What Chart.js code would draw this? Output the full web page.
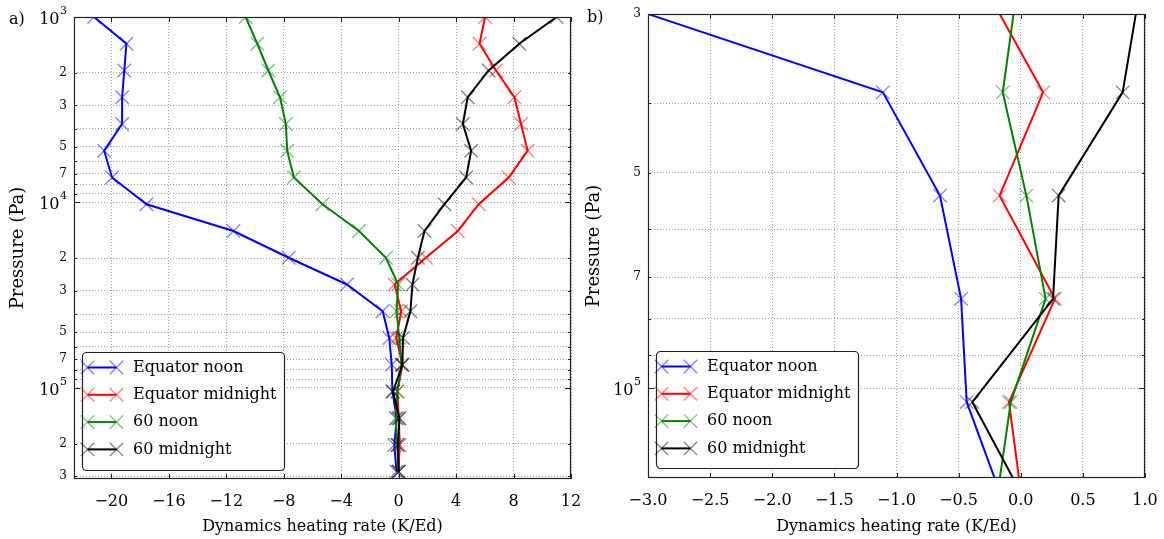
<!DOCTYPE html>
<html><head><meta charset="utf-8">
<script src="https://cdn.jsdelivr.net/npm/chart.js@4.4.0/dist/chart.umd.min.js"></script>
<style>
html,body{margin:0;padding:0;background:#fff;overflow:hidden;}
#wrap{position:relative;width:1164px;height:539px;overflow:hidden;background:#fff;}
.c{position:absolute;top:0;width:582px;height:539px;}
</style></head><body>
<div id="wrap">
<div class="c" style="left:0"><canvas id="ca" width="582" height="539" style="width:582px;height:539px"></canvas></div>
<div class="c" style="left:582px"><canvas id="cb" width="582" height="539" style="width:582px;height:539px"></canvas></div>
</div>
<script>
// ---- data ----
const pressure = [1000, 1394, 1943, 2708, 3775, 5262, 7335, 10225, 14253, 19868, 27695, 38605, 53813, 75012, 104563, 145755, 203175, 283216];
const equatorNoon = [-21.2, -18.95, -19.1, -19.25, -19.25, -20.5, -19.95, -17.55, -11.5, -7.65, -3.6, -1.11, -0.65, -0.48, -0.435, -0.13, -0.3, -0.15];
const equatorMidnight = [6.02, 5.63, 6.78, 8.06, 8.52, 8.98, 7.66, 5.58, 4.12, 1.9, -0.28, 0.18, -0.17, 0.275, -0.095, 0.015, 0.07, 0.0];
const sixtyNoon = [-10.65, -9.84, -9.07, -8.26, -7.85, -7.76, -7.29, -5.3, -2.76, -0.88, -0.03, -0.145, 0.045, 0.2, -0.08, -0.2, -0.1, 0.0];
const sixtyMidnight = [11.0, 8.4, 6.27, 4.81, 4.47, 5.05, 4.7, 3.19, 1.8, 1.34, 0.96, 0.82, 0.305, 0.26, -0.39, 0.055, -0.05, 0.0];
const seriesLabels = ['Equator noon', 'Equator midnight', '60 noon', '60 midnight'];
const xTicksA = [-20, -16, -12, -8, -4, 0, 4, 8, 12];
const xTicksB = [-3.0, -2.5, -2.0, -1.5, -1.0, -0.5, 0.0, 0.5, 1.0];
const minorLabelMantissas = [2, 3, 5, 7];
const xTitle = 'Dynamics heating rate (K/Ed)';
const yTitle = 'Pressure (Pa)';

const FONT = "'DejaVu Serif', 'Liberation Serif', serif";
const lineColors = ['#0000ff', '#ff0000', '#008000', '#000000'];
const markColors = ['rgba(0,0,255,0.5)', 'rgba(255,0,0,0.5)', 'rgba(0,128,0,0.5)', 'rgba(0,0,0,0.5)'];
const seriesValues = [equatorNoon, equatorMidnight, sixtyNoon, sixtyMidnight];
const MARK_R = 9.5, MARK_W = 1.3, LINE_W = 2;

function mantissa(v) { const e = Math.floor(Math.log10(v) + 1e-9); return {m: Math.round(v / Math.pow(10, e)), e}; }
function yLabel(v) {
  const {m} = mantissa(v);
  return minorLabelMantissas.includes(m) ? String(m) : '';
}
function logTicks(min, max) {
  const out = [];
  for (let e = 2; e <= 6; e++) for (let m = 1; m <= 9; m++) {
    const v = m * Math.pow(10, e);
    if (v >= min * 0.999 && v <= max * 1.001) out.push({value: v});
  }
  return out;
}
function crossRot(ctx, x, y, r) {
  const o = r * Math.SQRT1_2;
  ctx.beginPath();
  ctx.moveTo(x - o, y - o); ctx.lineTo(x + o, y + o);
  ctx.moveTo(x - o, y + o); ctx.lineTo(x + o, y - o);
  ctx.stroke();
}
function seg(ctx, x1, y1, x2, y2) { ctx.beginPath(); ctx.moveTo(x1, y1); ctx.lineTo(x2, y2); ctx.stroke(); }

const framePlugin = {
  id: 'frame',
  afterDatasetsDraw(chart, args, opts) {
    const {ctx, chartArea: a, scales} = chart;
    ctx.save();
    // inward ticks
    ctx.strokeStyle = '#222'; ctx.lineWidth = 1;
    scales.x.ticks.forEach(t => {
      const px = Math.round(scales.x.getPixelForValue(t.value)) + 0.5;
      seg(ctx, px, a.top, px, a.top + 5); seg(ctx, px, a.bottom, px, a.bottom - 5);
    });
    scales.y.ticks.forEach(t => {
      const py = Math.round(scales.y.getPixelForValue(t.value)) + 0.5;
      const mm = mantissa(t.value);
      const L = mm.m === 1 ? 6 : 3;
      seg(ctx, a.left, py, a.left + L, py); seg(ctx, a.right, py, a.right - L, py);
      if (mm.m === 1) {
        // decade label 10^e with a raised exponent
        const xr = a.left - 7;
        ctx.fillStyle = '#000'; ctx.textAlign = 'right'; ctx.textBaseline = 'middle';
        ctx.font = '11px ' + FONT;
        const es = String(mm.e);
        const ew = ctx.measureText(es).width;
        ctx.fillText(es, xr, py - 6);
        ctx.font = '16px ' + FONT;
        ctx.fillText('10', xr - ew - 0.5, py + 2);
      }
    });
    // legend
    const lg = opts.legend;
    ctx.fillStyle = '#fff'; ctx.strokeStyle = '#222'; ctx.lineWidth = 1.2;
    ctx.beginPath();
    ctx.roundRect(lg.x + 0.5, lg.y + 0.5, lg.w, lg.h, 4);
    ctx.fill(); ctx.stroke();
    seriesLabels.forEach((lab, i) => {
      const cy = lg.y + 15.5 + i * 27.3;
      ctx.strokeStyle = lineColors[i]; ctx.lineWidth = LINE_W;
      seg(ctx, lg.x + 5.5, cy, lg.x + 34.5, cy);
      ctx.strokeStyle = markColors[i]; ctx.lineWidth = MARK_W;
      crossRot(ctx, lg.x + 5.5, cy, MARK_R); crossRot(ctx, lg.x + 34.5, cy, MARK_R);
      ctx.fillStyle = '#000'; ctx.font = '16px ' + FONT; ctx.textBaseline = 'middle'; ctx.textAlign = 'left';
      ctx.fillText(lab, lg.x + 51, cy);
    });
    // frame
    ctx.strokeStyle = '#222'; ctx.lineWidth = 1.2;
    ctx.strokeRect(a.left + 0.5, a.top + 0.5, a.right - a.left - 1, a.bottom - a.top - 1);
    // panel label
    ctx.fillStyle = '#000'; ctx.font = '16px ' + FONT; ctx.textBaseline = 'middle'; ctx.textAlign = 'left';
    ctx.fillText(opts.panel, opts.px, opts.py);
    ctx.restore();
  }
};

function makeChart(id, cfg) {
  return new Chart(document.getElementById(id), {
    type: 'scatter',
    data: {
      datasets: seriesLabels.map((lab, i) => ({
        label: lab,
        data: pressure.map((p, j) => ({x: seriesValues[i][j], y: p})),
        showLine: true, tension: 0,
        borderColor: lineColors[i], backgroundColor: lineColors[i], borderWidth: LINE_W,
        pointStyle: 'crossRot', pointRadius: MARK_R, pointHoverRadius: MARK_R,
        pointBorderColor: markColors[i], pointBorderWidth: MARK_W, pointBackgroundColor: 'rgba(0,0,0,0)',
        order: 4 - i, clip: 0
      }))
    },
    options: {
      responsive: false, animation: false, events: [],
      layout: {padding: {left: 0, top: cfg.top, right: cfg.right, bottom: 0}},
      plugins: {
        legend: {display: false}, tooltip: {enabled: false},
        frame: {legend: cfg.legend, panel: cfg.panel, px: cfg.px, py: cfg.py}
      },
      scales: {
        x: {
          type: 'linear', min: cfg.xmin, max: cfg.xmax,
          afterBuildTicks: s => { s.ticks = cfg.xticks.map(v => ({value: v})); },
          afterFit: s => { s.height = 539 - cfg.bottom; },
          grid: {color: 'rgba(0,0,0,0.38)', lineWidth: 1, drawTicks: true, tickLength: 13, tickColor: 'rgba(0,0,0,0)'},
          border: {display: false, dash: [1, 2]},
          ticks: {
            font: {family: FONT, size: 16}, color: '#000', padding: 0, autoSkip: false, maxRotation: 0,
            callback: v => (cfg.dec ? Number(v).toFixed(1) : String(v)).replace('-', '\u2212')
          },
          title: {display: true, text: xTitle, font: {family: FONT, size: 16}, color: '#000', padding: {top: 0, bottom: 3}}
        },
        y: {
          type: 'logarithmic', reverse: true, min: cfg.ymin, max: cfg.ymax,
          afterBuildTicks: s => { s.ticks = logTicks(cfg.ymin, cfg.ymax); },
          afterFit: s => { s.width = cfg.left; },
          grid: {color: 'rgba(0,0,0,0.38)', lineWidth: 1, drawTicks: true, tickLength: 7, tickColor: 'rgba(0,0,0,0)'},
          border: {display: false, dash: [1, 2]},
          ticks: {
            color: '#000', padding: 0, autoSkip: false,
            font: {family: FONT, size: 12},
            callback: v => yLabel(v)
          },
          title: {display: true, text: yTitle, font: {family: FONT, size: 18}, color: '#000', padding: {top: cfg.ytp, bottom: 0}}
        }
      }
    },
    plugins: [framePlugin]
  });
}

makeChart('ca', {
  left: 74, right: 11, top: 17, bottom: 479,
  xmin: -22.6, xmax: 12, xticks: xTicksA, dec: false,
  ymin: 1000, ymax: 310000, ytp: 7.5,
  legend: {x: 82, y: 352, w: 202, h: 118},
  panel: 'a)', px: 9, py: 20
});
makeChart('cb', {
  left: 66, right: 19, top: 14, bottom: 478,
  xmin: -3, xmax: 1, xticks: xTicksB, dec: true,
  ymin: 30000, ymax: 133500, ytp: 1.2,
  legend: {x: 74, y: 351, w: 202, h: 117},
  panel: 'b)', px: 5, py: 18
});
</script>
</body></html>
